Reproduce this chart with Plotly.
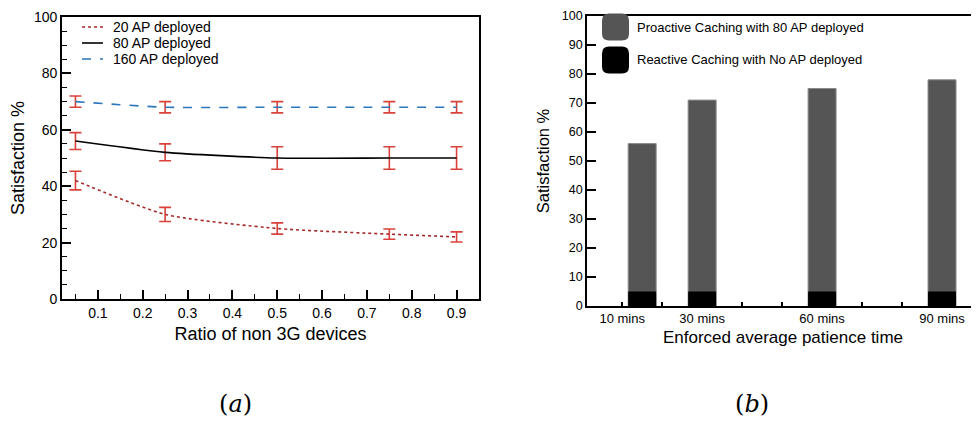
import plotly.graph_objects as go

# Page body has an 8px margin, so the figure is sized and placed to compensate
OFF = 8
W, H = 979 - OFF, 421 - OFF

# ---- Panel (a) data ----
ratio = [0.05, 0.25, 0.5, 0.75, 0.9]
sat_20 = [42, 30, 25, 23, 22]
err_20 = [3.3, 2.5, 2.0, 1.8, 1.8]
sat_80 = [56, 52, 50, 50, 50]
err_80 = [3.0, 3.0, 4.0, 4.0, 4.0]
sat_160 = [70, 68, 68, 68, 68]
err_160 = [2.0, 2.0, 2.0, 2.0, 2.0]
names_a = ["20 AP deployed", "80 AP deployed", "160 AP deployed"]

# ---- Panel (b) data ----
patience_labels = ["10 mins", "30 mins", "60 mins", "90 mins"]
patience_label_pos = [10, 30, 60, 90]
bar_pos = [15, 30, 60, 90]
proactive = [56, 71, 75, 78]
reactive = [5, 5, 5, 5]
names_b = ["Proactive Caching with 80 AP deployed", "Reactive Caching with No AP deployed"]

FONT = "Liberation Sans, Arial, Helvetica, sans-serif"
ERR_COL = "#d9423b"
LINE_COLS = ["#a52a2a", "#000000", "#2a77bb"]
DASHES = ["dot", "solid", "dash"]


def px(x):
    return (x - OFF) / W


def py(y):
    return 1 - (y - OFF) / H


fig = go.Figure()

for vals, errs, name, col, dash in zip(
    [sat_20, sat_80, sat_160], [err_20, err_80, err_160], names_a, LINE_COLS, DASHES
):
    fig.add_trace(go.Scatter(
        x=ratio, y=vals, name=name, mode="lines",
        line=dict(color=col, width=1.6, dash=dash, shape="spline", smoothing=0.6),
        error_y=dict(type="data", array=errs, color=ERR_COL, thickness=1.6, width=6),
        xaxis="x", yaxis="y", showlegend=False,
    ))

fig.add_trace(go.Bar(
    x=bar_pos, y=proactive, name=names_b[0], width=7,
    marker=dict(color="#555555", line=dict(color="#8a8a8a", width=1)),
    xaxis="x2", yaxis="y2", showlegend=False,
))
fig.add_trace(go.Bar(
    x=bar_pos, y=reactive, name=names_b[1], width=7,
    marker=dict(color="#000000", line=dict(width=0)),
    xaxis="x2", yaxis="y2", showlegend=False,
))

shapes = []
annotations = []

# Legend for panel (a)
for i, (name, col, dash) in enumerate(zip(names_a, LINE_COLS, DASHES)):
    yy = 27 + 16 * i
    shapes.append(dict(type="line", xref="paper", yref="paper",
                       x0=px(82), x1=px(103), y0=py(yy), y1=py(yy),
                       line=dict(color=col, width=1.6, dash=dash)))
    annotations.append(dict(xref="paper", yref="paper", x=px(111), y=py(yy),
                            xanchor="left", yanchor="middle", text=name, showarrow=False,
                            font=dict(family=FONT, size=14, color="#000")))


# Legend for panel (b): rounded squares
def rrect(x0, y0, x1, y1, r):
    X = lambda v: px(v)
    Y = lambda v: py(v)
    return (f"M {X(x0 + r)},{Y(y0)} L {X(x1 - r)},{Y(y0)} Q {X(x1)},{Y(y0)} {X(x1)},{Y(y0 + r)} "
            f"L {X(x1)},{Y(y1 - r)} Q {X(x1)},{Y(y1)} {X(x1 - r)},{Y(y1)} "
            f"L {X(x0 + r)},{Y(y1)} Q {X(x0)},{Y(y1)} {X(x0)},{Y(y1 - r)} "
            f"L {X(x0)},{Y(y0 + r)} Q {X(x0)},{Y(y0)} {X(x0 + r)},{Y(y0)} Z")


for i, (name, col) in enumerate(zip(names_b, ["#555555", "#000000"])):
    cy = 27 + 33 * i
    shapes.append(dict(type="path", xref="paper", yref="paper",
                       path=rrect(602, cy - 13.5, 629, cy + 13.5, 7),
                       fillcolor=col, line=dict(width=0)))
    annotations.append(dict(xref="paper", yref="paper", x=px(635), y=py(cy),
                            xanchor="left", yanchor="middle", text=name, showarrow=False,
                            font=dict(family=FONT, size=13, color="#000")))

# Sub-captions
for txt, cx in [("(<i>a</i>)", 235), ("(<i>b</i>)", 752)]:
    annotations.append(dict(xref="paper", yref="paper", x=px(cx), y=py(404),
                            xanchor="center", yanchor="middle", text=txt, showarrow=False,
                            font=dict(family="DejaVu Serif, Liberation Serif, serif", size=24, color="#000")))

axis_common = dict(showline=True, showgrid=False, zeroline=False, linecolor="black", linewidth=1.6,
                   ticks="inside", tickcolor="black", tickwidth=1.6, automargin=False,
                   ticklabeloverflow="allow")

fig.update_layout(
    width=W, height=H,
    margin=dict(l=0, r=0, t=0, b=0),
    paper_bgcolor="white", plot_bgcolor="white",
    font=dict(family=FONT, color="black"),
    barmode="overlay",
    shapes=shapes, annotations=annotations,
    xaxis=dict(**axis_common, domain=[px(62), px(479)], range=[0.02, 0.95],
               tickvals=[0.1, 0.2, 0.3, 0.4, 0.5, 0.6, 0.7, 0.8, 0.9], ticklen=9,
               minor=dict(ticks="inside", dtick=0.05, tick0=0.05, ticklen=5, tickcolor="black", tickwidth=1.4),
               mirror=True, anchor="y",
               tickfont=dict(size=14),
               title=dict(text="Ratio of non 3G devices", font=dict(size=18), standoff=8)),
    yaxis=dict(**axis_common, domain=[py(299), py(17)], range=[0, 100],
               tickvals=[0, 20, 40, 60, 80, 100], ticklen=9,
               minor=dict(ticks="inside", dtick=5, ticklen=5, tickcolor="black", tickwidth=1.4),
               mirror=True, anchor="x",
               tickfont=dict(size=14),
               title=dict(text="Satisfaction %", font=dict(size=18), standoff=6)),
    xaxis2=dict(**axis_common, domain=[px(587), 1.0], range=[1.2, 99.25],
                tickvals=[10, 20, 30, 40, 50, 60, 70, 80, 90],
                ticktext=["10 mins", "", "30 mins", "", "", "60 mins", "", "", "90 mins"],
                ticklen=4, mirror=True, anchor="y2",
                tickfont=dict(size=13),
                title=dict(text="Enforced average patience time", font=dict(size=17), standoff=6)),
    yaxis2=dict(**axis_common, domain=[py(306), py(16)], range=[0, 100],
                tickvals=[0, 10, 20, 30, 40, 50, 60, 70, 80, 90, 100], ticklen=9,
                mirror=False, anchor="x2",
                tickfont=dict(size=12.5),
                title=dict(text="Satisfaction %", font=dict(size=16.5), standoff=8)),
)

fig.write_html("out.html")
